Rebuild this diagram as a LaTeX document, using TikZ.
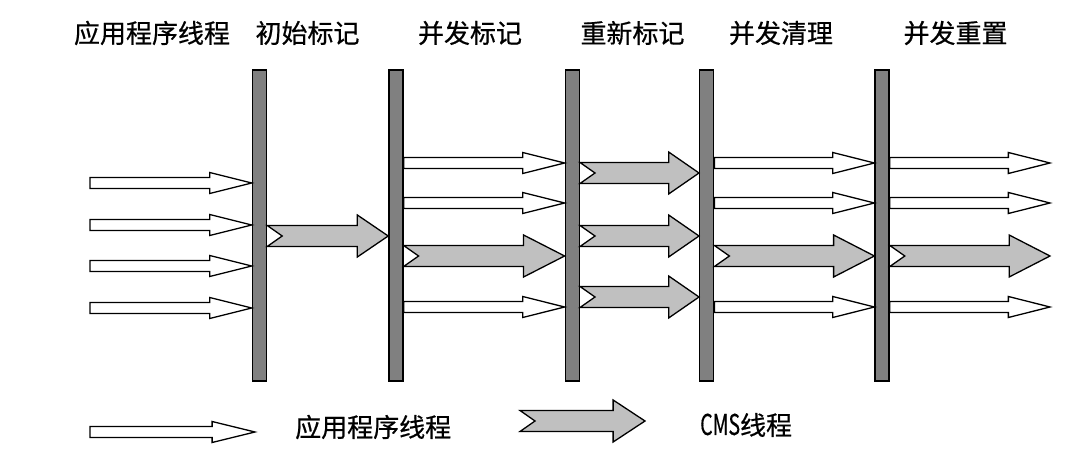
\documentclass[tikz,border=0pt]{standalone}
\usepackage{fontspec}
\usepackage{graphicx}
\usepackage{tikz}
\usetikzlibrary{positioning,calc}
\newfontfamily\cjk[FakeBold=0.6]{Noto Sans CJK SC}
\definecolor{barfill}{HTML}{808080}
\definecolor{cmsfill}{HTML}{C0C0C0}

\begin{document}
\begin{tikzpicture}[
  x=1pt, y=1pt,
  font=\cjk\fontsize{26}{30}\selectfont,
  bar/.style={draw,line width=1.4pt,fill=barfill,minimum width=14pt,
              minimum height=311pt,inner sep=0pt},
  ttl/.style={inner sep=0pt},
  appthr/.style={draw,fill=white,line width=1.3pt,line join=miter,
    to path={let \p1=(\tikztostart), \p2=(\tikztotarget),
                 \n1={0.26*(\x2-\x1)} in
      (\x1,\y2+5.5pt) -- (\x2-\n1,\y2+5.5pt) -- (\x2-\n1,\y2+10.5pt)
      -- (\x2,\y2) -- (\x2-\n1,\y2-10.5pt) -- (\x2-\n1,\y2-5.5pt)
      -- (\x1,\y2-5.5pt) -- cycle}},
  cmsthr/.style={draw,fill=cmsfill,line width=1.3pt,line join=miter,
    to path={let \p1=(\tikztostart), \p2=(\tikztotarget),
                 \n1={0.255*(\x2-\x1)} in
      (\x1,\y2+10.5pt) -- (\x2-\n1,\y2+10.5pt) -- (\x2-\n1,\y2+21pt)
      -- (\x2,\y2) -- (\x2-\n1,\y2-21pt) -- (\x2-\n1,\y2-10.5pt)
      -- (\x1,\y2-10.5pt) -- (\x1+15pt,\y2) -- cycle}}
]
\useasboundingbox (0,0) rectangle (1065,468);

%% ---- phase bars ---------------------------------------------------------
\node[bar] at (259.5,242.5)      (b1) {};
\node[bar, right=121pt of b1]    (b2) {};
\node[bar, right=161pt of b2]    (b3) {};
\node[bar, right=119pt of b3]    (b4) {};
\node[bar, right=160pt of b4]    (b5) {};

\coordinate (appin) at (90,242.5);
\coordinate (rend)  at (1050,242.5);

%% ---- titles -------------------------------------------------------------
\node[ttl] at (152,435)   (t0) {应用程序线程};
\node[ttl] at (307.5,435) (t1) {初始标记};
\node[ttl] at (470,435)   (t2) {并发标记};
\node[ttl] at (632.5,435) (t3) {重新标记};
\node[ttl] at (781,435)   (t4) {并发清理};
\node[ttl] at (955.5,435) (t5) {并发重置};

%% ---- threads per phase --------------------------------------------------
\foreach \dy in {42.5,0.5,-40.5,-82.5}
  \draw[appthr] (appin) to ([yshift=\dy pt]b1.west);
\draw[cmsthr] (b1.east) to ([yshift=-10.5pt]b2.west);

\foreach \a/\b in {b2/b3, b4/b5, b5/rend} {
  \foreach \dy in {62.5,22.5,-81.5}
    \draw[appthr] (\a.east) to ([yshift=\dy pt]\b.west);
  \draw[cmsthr] (\a.east) to ([yshift=-30.5pt]\b.west);
}

\foreach \dy in {52.5,-10.5,-71.5}
  \draw[cmsthr] (b3.east) to ([yshift=\dy pt]b4.west);

%% ---- legend -------------------------------------------------------------
\coordinate (la1) at (90,36);
\coordinate (la2) at (255,36);
\coordinate (lc1) at (520,47);
\coordinate (lc2) at (645,47);
\draw[appthr] (la1) to (la2);
\draw[cmsthr] (lc1) to (lc2);
\node[ttl, anchor=west] at (295,41) (lapp) {应用程序线程};
\node[ttl, anchor=west] at (700,43) (lcms) {\scalebox{0.75}[1.1]{CMS}线程};
\end{tikzpicture}
\end{document}
